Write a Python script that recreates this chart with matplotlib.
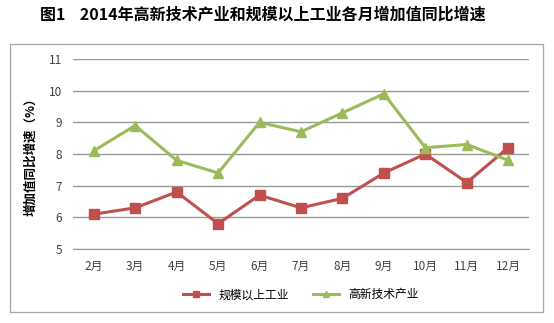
import matplotlib.pyplot as plt
from matplotlib.patches import Rectangle

plt.rcParams['font.family'] = ['Noto Sans CJK SC', 'DejaVu Sans']

months = ['2月', '3月', '4月', '5月', '6月', '7月', '8月', '9月', '10月', '11月', '12月']
industry = [6.1, 6.3, 6.8, 5.8, 6.7, 6.3, 6.6, 7.4, 8.0, 7.1, 8.2]
hitech = [8.1, 8.9, 7.8, 7.4, 9.0, 8.7, 9.3, 9.9, 8.2, 8.3, 7.8]
yticks = [5, 6, 7, 8, 9, 10, 11]

RED = '#C0504D'
GREEN = '#9BBB59'

fig = plt.figure(figsize=(5.54, 3.23), dpi=100)

# outer chart border
fig.patches.append(Rectangle((10 / 554, 1 - 312 / 323), 533 / 554, 268 / 323,
                             transform=fig.transFigure, fill=False,
                             edgecolor='#A6A6A6', linewidth=0.9))

fig.text(0.475, 1 - 15 / 323, '图1    2014年高新技术产业和规模以上工业各月增加值同比增速',
         ha='center', va='center', fontsize=11.5, fontweight='bold')

ax = fig.add_axes([73 / 554, 1 - 249 / 323, 456 / 554, 190 / 323])
x = range(len(months))
ax.plot(x, industry, color=RED, linewidth=2.2, marker='s', markersize=7,
        label='规模以上工业')
ax.plot(x, hitech, color=GREEN, linewidth=2.2, marker='^', markersize=7,
        label='高新技术产业')

ax.set_xlim(-0.5, len(months) - 0.5)
ax.set_ylim(5, 11)
ax.set_yticks(yticks)
ax.set_xticks(list(x))
ax.set_xticklabels(months)
ax.tick_params(axis='both', length=0, labelsize=8.5, colors='#404040', pad=8)
ax.grid(axis='y', color='#999999', linewidth=1)
ax.set_axisbelow(True)
for s in ['top', 'right', 'left']:
    ax.spines[s].set_visible(False)
ax.spines['bottom'].set_color('#999999')

ax.set_ylabel('增加值同比增速（%）', fontsize=9, fontweight='bold', labelpad=8)

ax.legend(loc='center', bbox_to_anchor=(0.5, -0.24), ncol=2, frameon=False,
          fontsize=8.5, handlelength=2.2, columnspacing=2.0, markerscale=0.6)

fig.savefig('out.png', dpi=100)
